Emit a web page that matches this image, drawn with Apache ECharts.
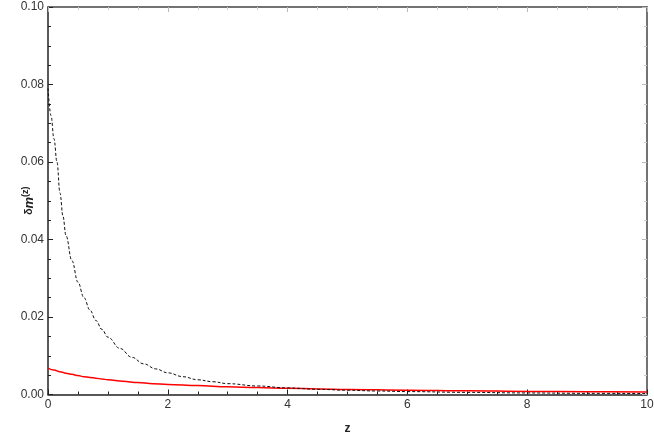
<!DOCTYPE html>
<html>
<head>
<meta charset="utf-8">
<script src="https://cdn.jsdelivr.net/npm/echarts@6/dist/echarts.min.js"></script>
<style>html,body{margin:0;padding:0;background:#fff}#c{width:654px;height:436px}</style>
</head>
<body>
<div id="c"></div>
<script>
var zDashed = [0, 0.05, 0.1, 0.15, 0.2, 0.25, 0.3, 0.4, 0.5, 0.6, 0.7, 0.8, 0.9, 1.0, 1.2, 1.4, 1.6, 1.8, 2.0, 2.25, 2.5, 2.75, 3.0, 3.5, 4.0, 4.5, 5.0, 5.5, 6.0, 7.0, 8.0, 9.0, 10.0];
var deltaDashed = [0.079, 0.072, 0.066, 0.060, 0.052, 0.046, 0.041, 0.0345, 0.029, 0.0250, 0.0218, 0.0191, 0.0168, 0.0148, 0.0119, 0.0096, 0.0079, 0.0066, 0.0056, 0.0046, 0.0038, 0.0033, 0.0028, 0.0022, 0.0017, 0.00135, 0.0011, 0.0009, 0.00075, 0.00055, 0.0004, 0.0003, 0.00025];
var zRed = [0, 0.1, 0.2, 0.3, 0.4, 0.5, 0.6, 0.7, 0.8, 0.9, 1.0, 1.25, 1.5, 1.75, 2.0, 2.5, 3.0, 3.5, 4.0, 4.5, 5.0, 6.0, 7.0, 8.0, 9.0, 10.0];
var deltaRed = [0.0068, 0.0063, 0.0059, 0.0055, 0.0052, 0.0049, 0.0046, 0.0044, 0.0042, 0.0040, 0.0038, 0.0034, 0.0031, 0.0028, 0.0026, 0.0023, 0.0020, 0.0018, 0.0016, 0.00145, 0.0013, 0.0011, 0.00095, 0.0008, 0.0007, 0.00062];
var xTicks = {min: 0, max: 10, interval: 2};
var yTicks = {min: 0, max: 0.10, interval: 0.02};

function pairs(xs, ys) { return xs.map(function (x, i) { return [x, ys[i]]; }); }

var font = '"Liberation Sans", Arial, sans-serif';
var chart = echarts.init(document.getElementById('c'));
var labelStyle = {color: '#333', fontSize: 12, fontFamily: font};
chart.setOption({
  animation: false,
  grid: {left: 48, right: 7, top: 7, bottom: 41.5, containLabel: false, outerBoundsMode: 'none'},
  xAxis: [{
    type: 'value', position: 'bottom', min: xTicks.min, max: xTicks.max, interval: xTicks.interval,
    name: 'z', nameLocation: 'middle', nameGap: 28, nameMoveOverlap: false,
    nameTextStyle: {fontWeight: 'bold', fontSize: 12, color: '#222', fontFamily: font},
    axisLine: {show: true, onZero: false, lineStyle: {color: '#222', width: 1.5}},
    axisTick: {show: true, inside: true, length: 5, lineStyle: {color: '#222', width: 1}},
    minorTick: {show: true, splitNumber: 4, length: 3, lineStyle: {color: '#222', width: 1}},
    axisLabel: Object.assign({margin: 4, formatter: function (v) { return String(v); }}, labelStyle),
    splitLine: {show: false}
  }, {
    type: 'value', position: 'top', min: xTicks.min, max: xTicks.max, interval: xTicks.interval,
    axisLine: {show: true, onZero: false, lineStyle: {color: '#444', width: 1.5}},
    axisTick: {show: true, inside: true, length: 5, lineStyle: {color: '#bbb', width: 1}},
    minorTick: {show: true, splitNumber: 4, length: 3, lineStyle: {color: '#ccc', width: 1}},
    axisLabel: {show: false}, splitLine: {show: false}
  }],
  yAxis: [{
    type: 'value', position: 'left', min: yTicks.min, max: yTicks.max, interval: yTicks.interval,
    name: '{a|δ}{b|m}{c|(z)}', nameLocation: 'middle', nameGap: 12, nameRotate: 90, nameMoveOverlap: false,
    nameTextStyle: {
      color: '#222', fontFamily: font,
      rich: {
        a: {fontSize: 11, fontWeight: 'bold', color: '#222', fontFamily: font, padding: [4, 0, 0, 0]},
        b: {fontSize: 13, fontWeight: 'bold', fontStyle: 'italic', color: '#222', fontFamily: font, padding: [6, 0, 0, 0]},
        c: {fontSize: 9, fontWeight: 'bold', color: '#222', fontFamily: font, padding: [0, 0, 2, 0]}
      }
    },
    axisLine: {show: true, onZero: false, lineStyle: {color: '#222', width: 1.5}},
    axisTick: {show: true, inside: true, length: 5, lineStyle: {color: '#222', width: 1}},
    minorTick: {show: true, splitNumber: 4, length: 3, lineStyle: {color: '#222', width: 1}},
    axisLabel: Object.assign({margin: 4, formatter: function (v) { return v.toFixed(2); }}, labelStyle),
    splitLine: {show: false}
  }, {
    type: 'value', position: 'right', min: yTicks.min, max: yTicks.max, interval: yTicks.interval,
    axisLine: {show: true, onZero: false, lineStyle: {color: '#444', width: 1.5}},
    axisTick: {show: true, inside: true, length: 5, lineStyle: {color: '#bbb', width: 1}},
    minorTick: {show: true, splitNumber: 4, length: 3, lineStyle: {color: '#ccc', width: 1}},
    axisLabel: {show: false}, splitLine: {show: false}
  }],
  series: [{
    type: 'line', xAxisIndex: 0, yAxisIndex: 0, showSymbol: false, smooth: 0.4, smoothMonotone: 'x',
    data: pairs(zRed, deltaRed),
    lineStyle: {color: '#ff0000', width: 1.5}, z: 3
  }, {
    type: 'line', xAxisIndex: 0, yAxisIndex: 0, showSymbol: false, smooth: 0.4, smoothMonotone: 'x',
    data: pairs(zDashed, deltaDashed),
    lineStyle: {color: '#111', width: 1, type: [3, 2]}, z: 4
  }]
});
</script>
</body>
</html>
